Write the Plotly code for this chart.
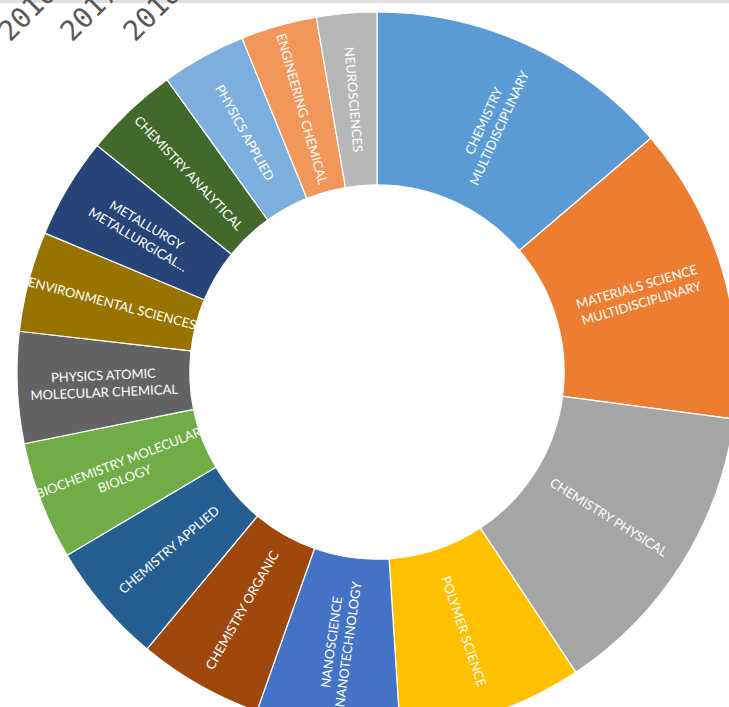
import math
import plotly.graph_objects as go

categories = [
    "CHEMISTRY<br>MULTIDISCIPLINARY",
    "MATERIALS SCIENCE<br>MULTIDISCIPLINARY",
    "CHEMISTRY PHYSICAL",
    "POLYMER SCIENCE",
    "NANOSCIENCE<br>NANOTECHNOLOGY",
    "CHEMISTRY ORGANIC",
    "CHEMISTRY APPLIED",
    "BIOCHEMISTRY MOLECULAR<br>BIOLOGY",
    "PHYSICS ATOMIC<br>MOLECULAR CHEMICAL",
    "ENVIRONMENTAL SCIENCES",
    "METALLURGY<br>METALLURGICAL...",
    "CHEMISTRY ANALYTICAL",
    "PHYSICS APPLIED",
    "ENGINEERING CHEMICAL",
    "NEUROSCIENCES",
]
values = [49.5, 48.0, 49.0, 29.8, 23.2, 20.2, 19.7, 19.1, 18.0, 16.2, 16.3, 15.3, 13.7, 12.3, 9.7]
colors = [
    "#5B9BD5", "#ED7D31", "#A5A5A5", "#FFC000", "#4472C4",
    "#9E480E", "#255E91", "#70AD47", "#636363", "#997300",
    "#264478", "#43682B", "#7CAFDD", "#F1975A", "#B7B7B7",
]
year_labels = ["2016", "2017", "2018"]

W, H = 754, 744
cx, cy, R = 377, 372, 360
HOLE = 0.52
FONT = dict(family="Lato, Open Sans, sans-serif", size=13, color="white")

# slices whose labels plotly would force horizontal are labelled with annotations
annotated = {1, 8}
slice_text = ["" if i in annotated else c for i, c in enumerate(categories)]

fig = go.Figure(go.Pie(
    labels=categories,
    values=values,
    text=slice_text,
    textinfo="text",
    sort=False,
    direction="clockwise",
    rotation=0,
    hole=HOLE,
    marker=dict(colors=colors, line=dict(color="white", width=1.2)),
    textposition="inside",
    insidetextorientation="radial",
    textfont=FONT,
    domain=dict(x=[(cx - R) / W, (cx + R) / W], y=[1 - (cy + R) / H, 1 - (cy - R) / H]),
    showlegend=False,
    hoverinfo="label+value",
))

total = sum(values)
cum = 0.0
rmid = R * (1 + HOLE) / 2
for i, v in enumerate(values):
    mid = (cum + v / 2) / total * 2 * math.pi
    cum += v
    if i not in annotated:
        continue
    px = cx + rmid * math.sin(mid)
    py = cy - rmid * math.cos(mid)
    deg = math.degrees(mid)
    ang = deg - 90 if deg < 180 else deg - 270
    fig.add_annotation(text=categories[i], xref="paper", yref="paper",
                       x=px / W, y=1 - py / H, xanchor="center", yanchor="middle",
                       showarrow=False, textangle=ang, font=FONT)

fig.add_shape(type="rect", xref="paper", yref="paper", x0=0, x1=1,
              y0=1 - 3 / H, y1=1, fillcolor="#E0E0E0", line=dict(width=0), layer="below")

year_x = [27, 89, 152]
for lab, xp in zip(year_labels, year_x):
    fig.add_annotation(text=lab, xref="paper", yref="paper", x=xp / W, y=1 - 13 / H,
                       xanchor="center", yanchor="middle", showarrow=False, textangle=-45,
                       font=dict(family="DejaVu Sans Mono, monospace", size=28, color="#595959"))

fig.update_layout(
    width=W, height=H,
    margin=dict(l=0, r=0, t=0, b=0),
    paper_bgcolor="white", plot_bgcolor="white",
    uniformtext=dict(minsize=13, mode="show"),
)

fig.write_html("out.html", config={"displayModeBar": False},
               post_script="document.body.style.margin='0';document.body.style.overflow='hidden';document.documentElement.style.overflow='hidden';")
